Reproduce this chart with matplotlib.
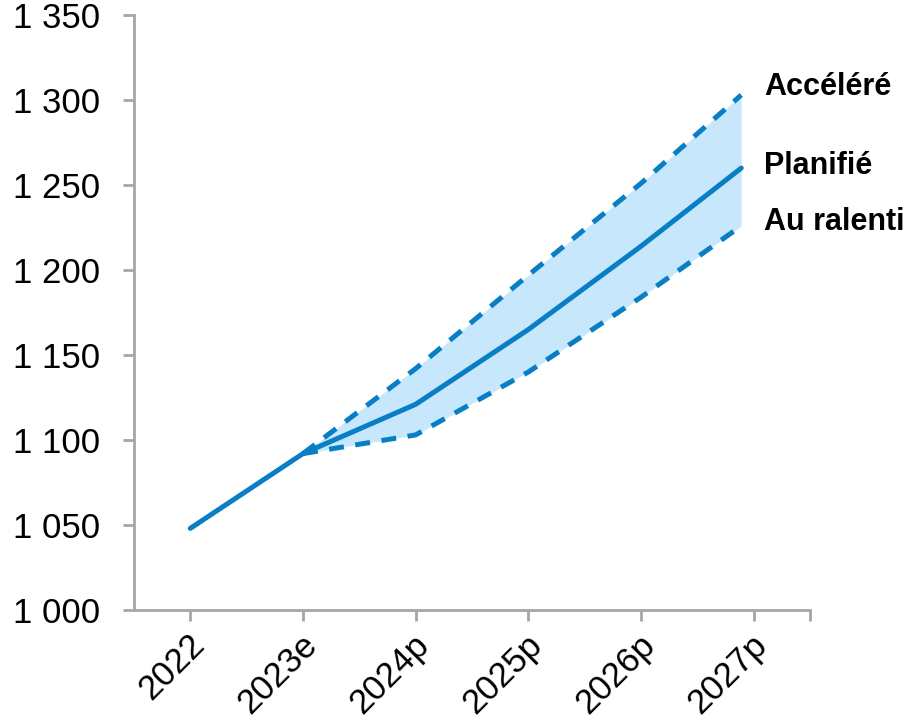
import matplotlib
matplotlib.use("Agg")
import matplotlib.pyplot as plt
from matplotlib.ticker import FuncFormatter
import matplotlib.transforms as mtransforms

plt.rcParams['font.family'] = ['Liberation Sans', 'DejaVu Sans']

# Data
categories = ["2022", "2023e", "2024p", "2025p", "2026p", "2027p"]
x_pos = [0, 1, 2, 3, 4, 4.89]  # last point sits a little before its tick
planifie = [1048, 1092, 1121, 1165, 1214, 1260]
accelere = [None, 1092, 1142, 1197, 1251, 1303]
ralenti = [None, 1092, 1103, 1140, 1184, 1226]
scenario_labels = ["Accéléré", "Planifié", "Au ralenti"]

LINE = "#0A7EC4"
FILL = "#C6E7FC"
AXIS = "#A6A6A6"

fig = plt.figure(figsize=(9.05, 7.21), dpi=100)
ax = fig.add_axes([0.148, 0.154, 0.747, 0.825])

xs = x_pos[1:]
ax.fill_between(xs, ralenti[1:], accelere[1:], color=FILL, lw=0, zorder=1)
ax.plot(x_pos, planifie, color=LINE, lw=3.6, solid_capstyle="round", zorder=3)
for serie in (accelere, ralenti):
    ax.plot(xs, serie[1:], color=LINE, lw=3.6, dashes=(3.0, 2.3),
            dash_capstyle="butt", zorder=2)

# scenario labels at the end of each line
ends = [accelere[-1], planifie[-1], ralenti[-1]]
offsets = [5, 1, 2]
for lab, yv, off in zip(scenario_labels, ends, offsets):
    ax.text(x_pos[-1] + 0.2, yv + off, lab, fontsize=22, fontweight="bold",
            va="center", ha="left", clip_on=False)

ax.set_xlim(-0.5, 5.5)
ax.set_ylim(1000, 1350)
ax.set_yticks(range(1000, 1351, 50))
ax.yaxis.set_major_formatter(FuncFormatter(lambda v, p: f"{int(v):,}".replace(",", " ")))
ax.set_xticks(range(len(categories)))
ax.set_xticks([5.5], minor=True)
ax.set_xticklabels(categories, rotation=45, ha="right", rotation_mode="anchor")

for side in ("top", "right"):
    ax.spines[side].set_visible(False)
for side in ("left", "bottom"):
    ax.spines[side].set_color(AXIS)
    ax.spines[side].set_linewidth(2)

ax.tick_params(axis="both", which="both", color=AXIS, width=2, length=8,
               labelsize=25, labelcolor="black")
ax.tick_params(axis="y", pad=16)
ax.tick_params(axis="x", pad=5)

# small nudge of the rotated year labels
shift = mtransforms.ScaledTranslation(-3 / 100, 0, fig.dpi_scale_trans)
for lbl in ax.get_xticklabels():
    lbl.set_transform(lbl.get_transform() + shift)

fig.savefig("out.png", dpi=100)
